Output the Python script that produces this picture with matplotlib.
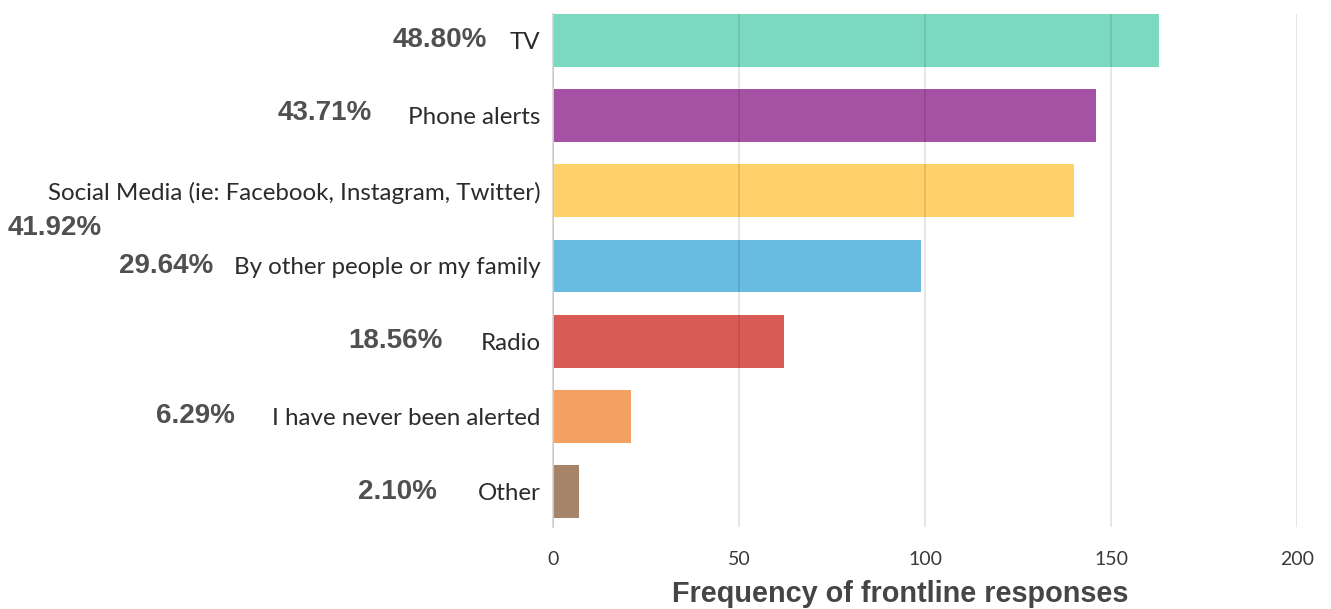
import matplotlib.pyplot as plt
from matplotlib.transforms import blended_transform_factory

# данные с картинки
categories = ['TV', 'Phone alerts', 'Social Media (ie: Facebook, Instagram, Twitter)',
              'By other people or my family', 'Radio', 'I have never been alerted', 'Other']
counts = [163, 146, 140, 99, 62, 21, 7]
percent_labels = ['48.80%', '43.71%', '41.92%', '29.64%', '18.56%', '6.29%', '2.10%']
colors = ['#7AD9BE', '#A552A5', '#FED16B', '#68BCE2', '#D95B55', '#F4A062', '#A5846A']

# где стоят проценты (правый край, px от левого края картинки) и сдвиг по y
pct_right_px = [487, 372, 102, 213, 443, 235, 437]
pct_dy = [0, -0.03, 0.5, 0, 0, 0, 0]

W, H = 1331, 609
fig = plt.figure(figsize=(W / 100, H / 100), dpi=100)
ax = fig.add_axes([553 / W, 1 - 527 / H, (1297 - 553) / W, (527 - 14) / H])

y = list(range(len(categories)))
ax.barh(y, counts, height=0.7, color=colors, zorder=1)

ax.set_xlim(0, 200)
ax.set_ylim(6.47, -0.35)
ax.set_xticks([0, 50, 100, 150, 200])
ax.grid(axis='x', color='black', alpha=0.1, linewidth=1.4, zorder=3)
ax.set_axisbelow(False)
for s in ['top', 'right', 'bottom']:
    ax.spines[s].set_visible(False)
ax.spines['left'].set_color('#dddddd')
ax.spines['left'].set_linewidth(1.4)
ax.tick_params(axis='both', length=0)
ax.tick_params(axis='x', pad=17, labelsize=14, labelcolor='#3a3a3a')
for t in ax.get_xticklabels():
    t.set_family('Lato')

ax.set_yticks(y)
ax.set_yticklabels(categories, family='Lato', fontsize=17.4, color='#2b2b2b')
ax.tick_params(axis='y', pad=9)

trans = blended_transform_factory(fig.transFigure, ax.transData)
for i, lab in enumerate(percent_labels):
    ax.text(pct_right_px[i] / W, y[i] + pct_dy[i], lab, transform=trans,
            ha='right', va='center', family='Liberation Sans', fontweight='bold',
            fontsize=20, color='#505050')

ax.set_xlabel('Frequency of frontline responses', family='Liberation Sans',
              fontweight='bold', fontsize=20.8, color='#454545', labelpad=4)
ax.xaxis.set_label_coords(0.466, -0.13)
ax.xaxis.label.set_va('center')

fig.savefig('out.png', dpi=100)
